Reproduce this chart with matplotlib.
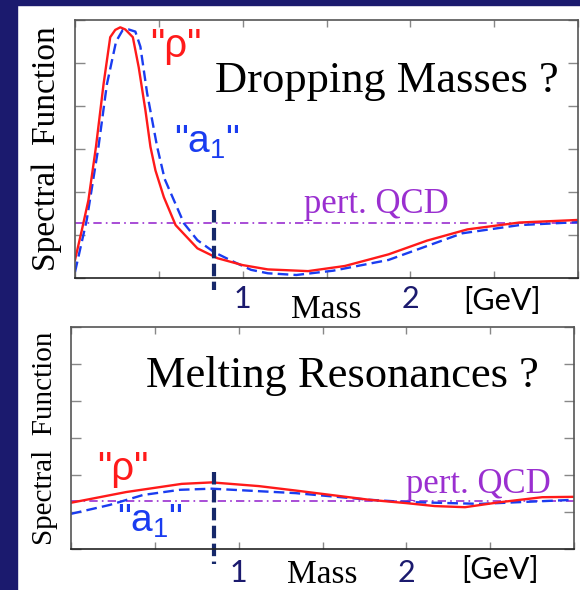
import matplotlib
matplotlib.use("Agg")
import matplotlib.pyplot as plt
from matplotlib.patches import Rectangle

# "Dropping Masses" panel (mass in GeV, spectral function in arbitrary units)
drop_rho_x = [0, 0.04, 0.08, 0.125, 0.17, 0.21, 0.24, 0.27, 0.30, 0.345, 0.38, 0.42, 0.45,
              0.48, 0.53, 0.60, 0.73, 0.85, 1.0, 1.15, 1.39, 1.61, 1.87, 2.1, 2.34, 2.65, 3.0]
drop_rho_y = [0.42, 1.1, 1.81, 3.05, 4.5, 5.6, 5.77, 5.83, 5.78, 5.6, 4.9, 3.9, 3.05,
              2.5, 1.88, 1.23, 0.69, 0.46, 0.30, 0.2, 0.16, 0.28, 0.55, 0.87, 1.13, 1.29, 1.35]
drop_a1_x = [0, 0.07, 0.14, 0.19, 0.245, 0.285, 0.32, 0.36, 0.39, 0.43, 0.49, 0.535, 0.65,
             0.73, 0.83, 0.95, 1.05, 1.15, 1.32, 1.54, 1.87, 2.31, 2.65, 3.0]
drop_a1_y = [0.14, 1.35, 3.05, 4.5, 5.5, 5.77, 5.78, 5.73, 5.38, 4.3, 3.05, 2.3, 1.27,
             0.88, 0.6, 0.37, 0.19, 0.11, 0.07, 0.17, 0.42, 1.04, 1.23, 1.3]
drop_qcd = 1.27
drop_tc = 0.83

# "Melting Resonances" panel
melt_rho_x = [0, 0.33, 0.66, 0.84, 1.12, 1.34, 1.78, 2.0, 2.17, 2.35, 2.55, 2.81, 3.0]
melt_rho_y = [1.25, 1.54, 1.76, 1.8, 1.7, 1.58, 1.33, 1.24, 1.16, 1.13, 1.26, 1.40, 1.41]
melt_a1_x = [0, 0.23, 0.43, 0.65, 0.84, 1.34, 1.78, 2.0, 2.44, 3.0]
melt_a1_y = [0.95, 1.19, 1.46, 1.6, 1.63, 1.51, 1.33, 1.27, 1.22, 1.33]
melt_qcd = 1.31
melt_tc = 0.85

xticks = [0, 0.5, 1, 1.5, 2, 2.5, 3]
xticklabels = ['', '', '1', '', '2', '', '']

RED = '#ff1a1a'
BLUE = '#1a3cf0'
PURPLE = '#9a2fd0'
NAVY = '#1b1a6e'
SERIF = 'Liberation Serif'
SANS = 'Liberation Sans'
TICKF = 'Lato'

plt.rcParams['mathtext.fontset'] = 'custom'
plt.rcParams['mathtext.rm'] = SANS

fig = plt.figure(figsize=(5.8, 5.9), dpi=100)
fig.patch.set_facecolor('white')
# navy frame (slide background)
fig.patches.append(Rectangle((0, 0), 17 / 580, 1, transform=fig.transFigure,
                             color=NAVY, zorder=0))
fig.patches.append(Rectangle((0, 1 - 5 / 590), 1, 5 / 590, transform=fig.transFigure,
                             color=NAVY, zorder=0))

ax1 = fig.add_axes([75 / 580, 1 - 278 / 590, 503 / 580, 258 / 590])
ax2 = fig.add_axes([71 / 580, 1 - 549 / 590, 503 / 580, 222 / 590])


def style(ax, ylabel_size, pad):
    ax.set_xlim(0, 3)
    ax.set_ylim(0, 6)
    ax.set_xticks(xticks)
    ax.set_xticklabels(xticklabels, fontfamily=TICKF, fontsize=22, color=NAVY)
    ax.set_yticks([0, 1, 2, 3, 4, 5, 6])
    ax.set_yticklabels([])
    ax.tick_params(axis='x', direction='in', top=True, length=5, width=1,
                   color='#888888', pad=pad)
    ax.tick_params(axis='y', direction='in', right=True, length=7, width=1,
                   color='#888888')
    for s in ax.spines.values():
        s.set_color('#555555')
        s.set_linewidth(1.2)
    ax.spines['bottom'].set_color('#222222')
    ax.set_ylabel('Spectral  Function', fontfamily=SERIF, fontsize=ylabel_size,
                  labelpad=6)
    ax.text(1.5, -0.155, 'Mass', transform=ax.get_xaxis_transform(), ha='center',
            va='baseline', fontfamily=SERIF, fontsize=24, clip_on=False)


def curves(ax, rx, ry, ax_, ay, qcd, tc, tc_top, tc_bot):
    ax.axhline(qcd, color=PURPLE, lw=1.2, ls=(0, (5, 2.5, 1, 2.5)))
    ax.plot(ax_, ay, color=BLUE, lw=1.7, ls=(0, (4.5, 2.2)))
    ax.plot(rx, ry, color=RED, lw=1.7)
    ax.plot([tc, tc], [tc_top, tc_bot], color='#16286a', lw=3, ls=(0, (3, 1.3)),
            clip_on=False)


style(ax1, 24, 5)
curves(ax1, drop_rho_x, drop_rho_y, drop_a1_x, drop_a1_y, drop_qcd, drop_tc, 1.58, -0.28)
ax1.text(1.86, 4.33, 'Dropping Masses ?', ha='center', va='baseline',
         fontfamily=SERIF, fontsize=32)
ax1.text(0.60, 5.14, '"ρ"', ha='center', va='baseline', fontfamily=SANS,
         fontsize=29, color=RED)
ax1.text(0.79, 2.91, '"a$_1$"', ha='center', va='baseline', fontfamily=SANS,
         fontsize=28, color=BLUE)
ax1.text(1.80, 1.51, 'pert. QCD', ha='center', va='baseline', fontfamily=SERIF,
         fontsize=25, color=PURPLE)
ax1.text(2.55, -0.089, '[GeV]', transform=ax1.get_xaxis_transform(), ha='center',
         va='center', fontfamily=TICKF, fontsize=22, clip_on=False)

style(ax2, 21, 7)
curves(ax2, melt_rho_x, melt_rho_y, melt_a1_x, melt_a1_y, melt_qcd, melt_tc, 2.08, -0.4)
ax2.text(1.62, 4.38, 'Melting Resonances ?', ha='center', va='baseline',
         fontfamily=SERIF, fontsize=32)
ax2.text(0.31, 1.86, '"ρ"', ha='center', va='baseline', fontfamily=SANS,
         fontsize=29, color=RED)
ax2.text(0.47, 0.46, '"a$_1$"', ha='center', va='baseline', fontfamily=SANS,
         fontsize=28, color=BLUE)
ax2.text(2.43, 1.51, 'pert. QCD', ha='center', va='baseline', fontfamily=SERIF,
         fontsize=25, color=PURPLE)
ax2.text(2.56, -0.095, '[GeV]', transform=ax2.get_xaxis_transform(), ha='center',
         va='center', fontfamily=TICKF, fontsize=22, clip_on=False)

fig.savefig('out.png', dpi=100)
